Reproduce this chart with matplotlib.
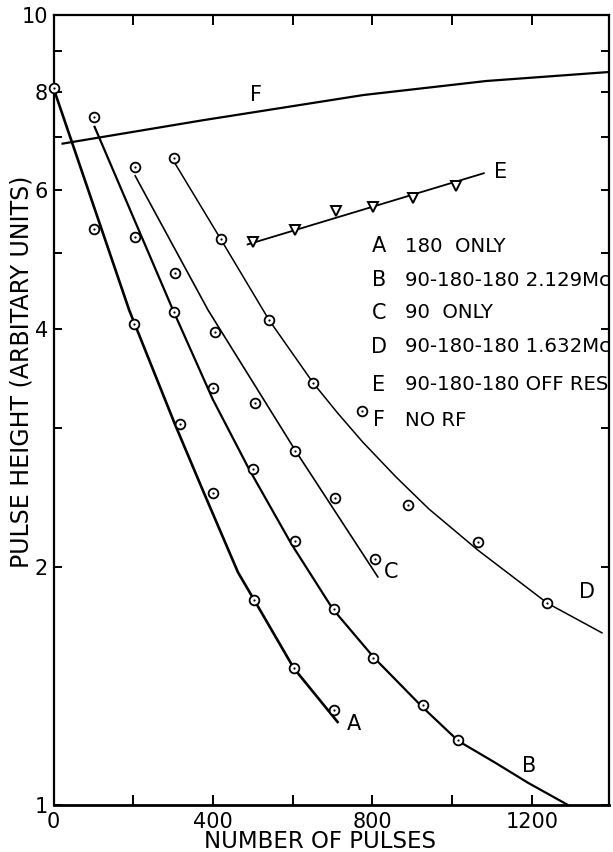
import matplotlib
matplotlib.use("Agg")
import matplotlib.pyplot as plt
from matplotlib.ticker import FixedLocator, FixedFormatter, NullFormatter

plt.rcParams['font.family'] = ['DejaVu Sans']

# ---------------- data ----------------
# measured points (circles with centre dot)
a_x = [0, 102, 202, 317, 400, 503, 603, 703]
a_y = [8.08, 5.36, 4.06, 3.04, 2.48, 1.82, 1.49, 1.32]
b_x = [102, 205, 303, 401, 501, 605, 703, 802, 926, 1016]
b_y = [7.43, 5.24, 4.21, 3.37, 2.66, 2.16, 1.77, 1.535, 1.34, 1.21]
c_x = [204, 304, 405, 506, 607, 706, 807]
c_y = [6.42, 4.72, 3.97, 3.23, 2.81, 2.45, 2.05]
d_x = [302, 420, 541, 652, 774, 890, 1066, 1238]
d_y = [6.59, 5.21, 4.11, 3.42, 3.15, 2.40, 2.15, 1.80]
# off-resonance points (open triangles)
e_x = [500, 606, 710, 803, 903, 1009]
e_y = [5.16, 5.34, 5.65, 5.71, 5.87, 6.07]

# drawn (fitted) curves
a_fit_x = [0, 190, 304, 378, 463, 503, 603, 715]
a_fit_y = [8.08, 4.23, 3.04, 2.48, 1.97, 1.82, 1.49, 1.27]
b_fit_x = [102, 300, 400, 491, 597, 701, 805, 926, 1016, 1110, 1192, 1291]
b_fit_y = [7.24, 4.23, 3.26, 2.66, 2.14, 1.77, 1.535, 1.33, 1.205, 1.13, 1.066, 1.0]
c_fit_x = [204, 388, 607, 815]
c_fit_y = [6.27, 4.23, 2.81, 1.94]
d_fit_x = [304, 418, 541, 652, 714, 776, 860, 942, 1066, 1240, 1378]
d_fit_y = [6.50, 5.22, 4.11, 3.42, 3.13, 2.88, 2.60, 2.37, 2.10, 1.80, 1.65]
e_fit_x = [485, 1082]
e_fit_y = [5.12, 6.31]
f_fit_x = [20, 376, 778, 1086, 1395]
f_fit_y = [6.87, 7.36, 7.92, 8.25, 8.47]

curve_letters = ['A', 'B', 'C', 'D', 'E', 'F']
curve_descr = ['180  ONLY', '90-180-180 2.129Mc', '90  ONLY',
               '90-180-180 1.632Mc', '90-180-180 OFF RES', 'NO RF']

x_major = [0, 400, 800, 1200]
x_minor = [200, 600, 1000]
y_major = [1, 2, 4, 6, 8, 10]
y_major_labels = ['1', '2', '4', '6', '8', '10']
y_minor = [3, 5, 7, 9]

# ---------------- figure ----------------
W, H = 613, 852
fig = plt.figure(figsize=(W / 100, H / 100), dpi=100)
L, R, T, B = 53.5, 609, 15, 805
ax = fig.add_axes([L / W, 1 - B / H, (R - L) / W, (B - T) / H])
ax.set_yscale('log')
ax.set_xlim(0, 1394)
ax.set_ylim(1, 10)

k = 'black'
ax.plot(a_fit_x, a_fit_y, color=k, lw=1.9, solid_capstyle='butt')
ax.plot(b_fit_x, b_fit_y, color=k, lw=1.6, solid_capstyle='butt')
ax.plot(c_fit_x, c_fit_y, color=k, lw=1.2, solid_capstyle='butt')
ax.plot(d_fit_x, d_fit_y, color=k, lw=1.1, solid_capstyle='butt')
ax.plot(e_fit_x, e_fit_y, color=k, lw=1.3, solid_capstyle='butt')
ax.plot(f_fit_x, f_fit_y, color=k, lw=1.6, solid_capstyle='butt')

for xs, ys in [(a_x, a_y), (b_x, b_y), (c_x, c_y), (d_x, d_y)]:
    ax.plot(xs, ys, linestyle='none', marker='o', ms=7, mfc='white',
            mec=k, mew=1.3, clip_on=False, zorder=5)
    ax.plot(xs, ys, linestyle='none', marker='o', ms=1.6, mfc=k,
            mec=k, mew=0, clip_on=False, zorder=6)
ax.plot(e_x, e_y, linestyle='none', marker='v', ms=7.5, mfc='white',
        mec=k, mew=1.4, zorder=5)

# curve labels
lab_fs = 15
curve_label_pos = [(753, 1.265), (1193, 1.12), (848, 1.97), (1338, 1.86),
                   (1122, 6.33), (509, 7.92)]
for letter, (lx, ly) in zip(curve_letters, curve_label_pos):
    ax.text(lx, ly, letter, fontsize=lab_fs, ha='center', va='center')

# legend block (positions in figure pixels)
rows_py = [246, 280, 313, 347, 385, 420]
for letter, desc, py in zip(curve_letters, curve_descr, rows_py):
    fig.text(379 / W, 1 - py / H, letter, fontsize=lab_fs,
             ha='center', va='center')
    fig.text(405 / W, 1 - py / H, desc, fontsize=14.2,
             ha='left', va='center')

# ticks
ax.xaxis.set_major_locator(FixedLocator(x_major))
ax.xaxis.set_minor_locator(FixedLocator(x_minor))
ax.xaxis.set_minor_formatter(NullFormatter())
ax.yaxis.set_major_locator(FixedLocator(y_major))
ax.yaxis.set_major_formatter(FixedFormatter(y_major_labels))
ax.yaxis.set_minor_locator(FixedLocator(y_minor))
ax.yaxis.set_minor_formatter(NullFormatter())

ax.tick_params(axis='x', which='both', direction='in', top=True, bottom=True,
               length=7.5, width=1.4, labelsize=15, pad=5)
ax.tick_params(axis='y', which='both', direction='in', left=True, right=True,
               length=6, width=1.4, labelsize=15, pad=4)

for s in ax.spines.values():
    s.set_linewidth(1.6)
ax.spines['bottom'].set_linewidth(2.0)

# axis titles placed at the reference positions
fig.text(320 / W, 1 - 842 / H, 'NUMBER OF PULSES', fontsize=16.5,
         ha='center', va='center')
fig.text(22 / W, 1 - 372 / H, 'PULSE HEIGHT (ARBITARY UNITS)', fontsize=17,
         rotation=90, ha='center', va='center')

fig.savefig('out.png', dpi=100, facecolor='white')
